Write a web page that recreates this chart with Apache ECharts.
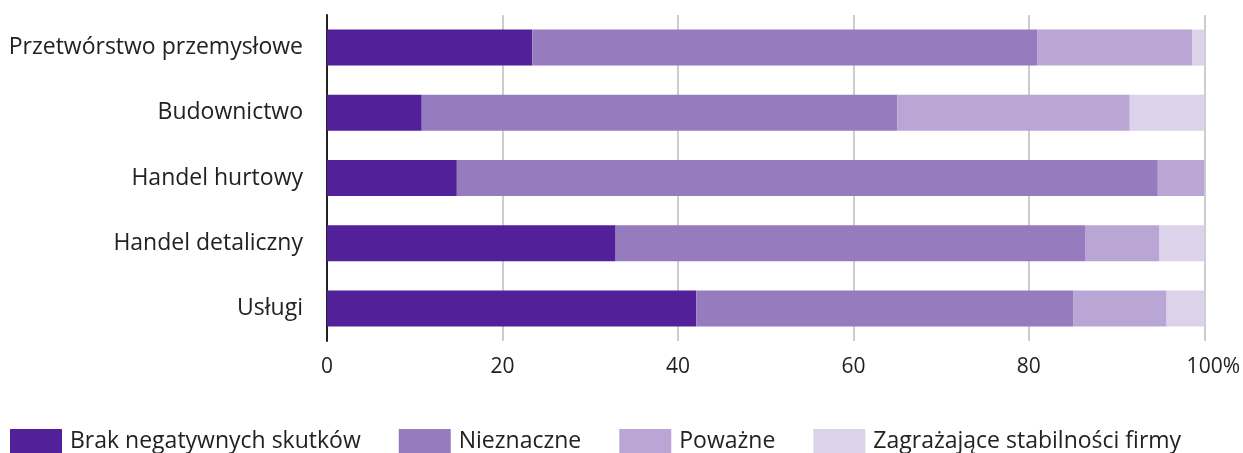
<!DOCTYPE html>
<html>
<head>
<meta charset="utf-8">
<script src="https://cdn.jsdelivr.net/npm/echarts@6/dist/echarts.min.js"></script>
<style>
  html, body { margin: 0; padding: 0; background: #fff; }
  #chart { width: 1243px; height: 453px; }
</style>
</head>
<body>
<div id="chart"></div>
<script>
// kategorie (od góry do dołu)
const categories = ['Przetwórstwo przemysłowe', 'Budownictwo', 'Handel hurtowy', 'Handel detaliczny', 'Usługi'];
const seriesNames = ['Brak negatywnych skutków', 'Nieznaczne', 'Poważne', 'Zagrażające stabilności firmy'];
// udziały w %
const brak = [23.4, 10.8, 14.8, 32.9, 42.1];
const nieznaczne = [57.6, 54.2, 79.9, 53.5, 43.0];
const powazne = [17.6, 26.5, 5.3, 8.5, 10.6];
const zagrazajace = [1.4, 8.5, 0, 5.1, 4.3];
const xTicks = [0, 20, 40, 60, 80, 100];

const colors = ['#52219a', '#967bbf', '#b9a6d4', '#dcd2ea'];
const font = '"Open Sans", "Noto Sans", sans-serif';

const chart = echarts.init(document.getElementById('chart'));
const values = [brak, nieznaczne, powazne, zagrazajace];

const option = {
  animation: false,
  textStyle: { fontFamily: font },
  grid: { left: 327, right: 38, top: 15, bottom: 112 },
  legend: {
    left: 10,
    top: 429,
    padding: 0,
    itemWidth: 52,
    itemHeight: 24,
    itemGap: 38,
    icon: 'rect',
    textStyle: { fontSize: 23, color: '#222', fontFamily: font, padding: [0, 0, 0, 3] },
    data: seriesNames
  },
  xAxis: {
    type: 'value',
    min: xTicks[0],
    max: xTicks[xTicks.length - 1],
    interval: 20,
    axisLine: { show: false },
    axisTick: { show: false },
    splitLine: { lineStyle: { color: '#bdbdbd', width: 1.5 } },
    axisLabel: {
      fontSize: 21,
      color: '#222',
      margin: 16,
      formatter: v => v === 100 ? '{m|100%}' : String(v),
      rich: { m: { fontSize: 21, color: '#222', padding: [0, 0, 0, 18] } }
    }
  },
  yAxis: {
    type: 'category',
    data: categories,
    inverse: true,
    axisLine: { show: true, lineStyle: { color: '#222', width: 2 } },
    axisTick: { show: false },
    axisLabel: { fontSize: 23, color: '#222', margin: 24 }
  },
  series: seriesNames.map((name, i) => ({
    name: name,
    type: 'bar',
    stack: 'total',
    barWidth: 36,
    itemStyle: { color: colors[i] },
    data: values[i]
  }))
};

chart.setOption(option);
</script>
</body>
</html>
